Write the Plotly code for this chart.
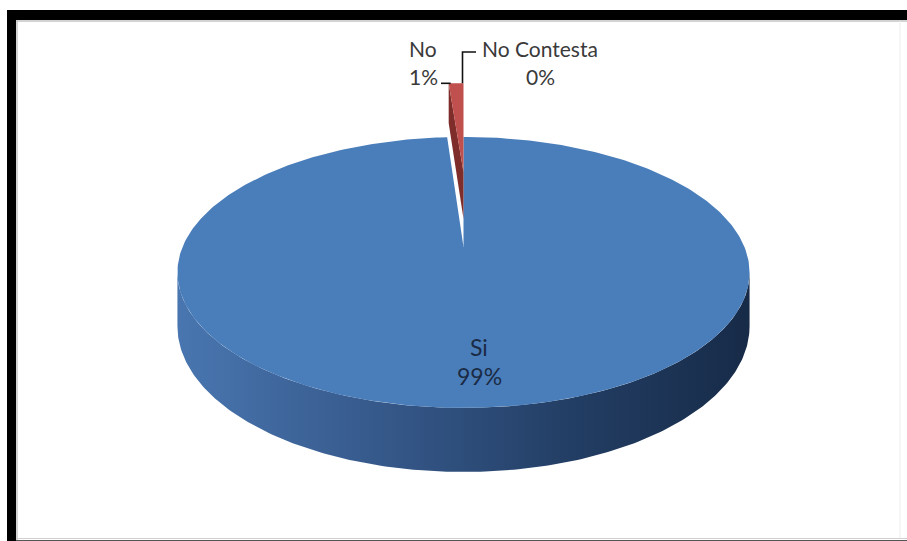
import numpy as np
import plotly.graph_objects as go

# Survey answers (percent of respondents)
categories = ["Si", "No", "No Contesta"]
shares = [98.9, 1.1, 0.0]
exploded = [False, True, False]

top_colors = ["#4A7EBB", "#C0504D", "#9BBB59"]
side_colors = ["#2E5283", "#7E2D2B", "#6A8A3A"]

# Perspective camera for the 3-D disc (screen pixels)
CX, Y0 = 463.5, -447.6
F, D, H = 1493.0, 5.314, 2.472
THICK = 0.185
EXPLODE = 0.64          # exploded slices are pulled straight back


def project(X, Z, h=0.0):
    d = D + Z
    return CX + F * X / d, Y0 + F * (H - h) / d


def rim(theta_deg, shift=(0.0, 0.0), h=0.0):
    t = np.radians(theta_deg)
    return project(np.sin(t) + shift[0], np.cos(t) + shift[1], h)


# slice angles, clockwise from 12 o'clock
total = sum(shares)
ends = np.cumsum([0] + [360.0 * v / total for v in shares])
slices = [(ends[i], ends[i + 1]) for i in range(len(shares))]

fig = go.Figure()


def add_poly(xs, ys, **kw):
    fig.add_trace(go.Scatter(x=xs, y=ys, mode="lines", fill="toself",
                             line=dict(width=0), hoverinfo="skip",
                             showlegend=False, **kw))


# outer wall of the disc (front half, between silhouette angles)
sil = np.degrees(np.arccos(-1.0 / D))
wall = np.linspace(sil, 360 - sil, 200)
wx_t, wy_t = rim(wall, h=0)
wx_b, wy_b = rim(wall[::-1], h=-THICK)
add_poly(np.concatenate([wx_t, wx_b, wx_t[:1]]),
         np.concatenate([wy_t, wy_b, wy_t[:1]]),
         fillgradient=dict(type="horizontal",
                           colorscale=[[0, "#4976B0"], [0.35, "#36598B"],
                                       [0.7, "#223D63"], [1, "#172B48"]]))

# top faces of the slices that stay in place
for i, (a0, a1) in enumerate(slices):
    if exploded[i] or a1 - a0 <= 0:
        continue
    arc = np.linspace(a0, a1, 400)
    xs, ys = rim(arc, h=0)
    c = project(0, 0, 0)
    add_poly(np.concatenate([[c[0]], xs, [c[0]]]),
             np.concatenate([[c[1]], ys, [c[1]]]),
             fillcolor=top_colors[i])

# exploded slices
for i, (a0, a1) in enumerate(slices):
    if not exploded[i] or a1 - a0 <= 0:
        continue
    sh = (0.0, EXPLODE)
    tip_t = project(sh[0], sh[1], 0)
    tip_b = project(sh[0], sh[1], -THICK)
    for ang in (a1, a0):
        rt = rim(ang, sh, 0)
        rb = rim(ang, sh, -THICK)
        add_poly([tip_t[0], rt[0], rb[0], tip_b[0], tip_t[0]],
                 [tip_t[1], rt[1], rb[1], tip_b[1], tip_t[1]],
                 fillcolor=side_colors[i])
    arc = np.linspace(a0, a1, 40)
    xs, ys = rim(arc, sh, 0)
    add_poly(np.concatenate([[tip_t[0]], xs, [tip_t[0]]]),
             np.concatenate([[tip_t[1]], ys, [tip_t[1]]]),
             fillcolor=top_colors[i])

# data labels
pct = [f"{round(v):.0f}%" for v in shares]
label_font = dict(family="Lato, Noto Sans, sans-serif", size=21, color="#3a3a3a")
label_pos = {0: (479, 347, 376), 1: (423, 48, 76), 2: (540, 48, 76)}
for i, (lx, ly1, ly2) in label_pos.items():
    font = dict(label_font)
    if i == 0:
        font.update(size=23, color="#1B2B45")
    fig.add_annotation(x=lx, y=ly1, text=categories[i], showarrow=False,
                       font=font, xanchor="center", yanchor="middle")
    fig.add_annotation(x=lx, y=ly2, text=pct[i], showarrow=False,
                       font=font, xanchor="center", yanchor="middle")

# leader lines to the exploded slice rim
a0, a1 = slices[1]
sh = (0.0, EXPLODE)
pl = rim(a0, sh, 0)
pr = rim(a1, sh, 0)
fig.add_trace(go.Scatter(x=[441, pl[0] + 2], y=[pl[1], pl[1]], mode="lines",
                         line=dict(color="#111", width=1.6),
                         hoverinfo="skip", showlegend=False))
fig.add_trace(go.Scatter(x=[pr[0] - 1, pr[0] - 1, 476], y=[pr[1], 52, 52], mode="lines",
                         line=dict(color="#111", width=1.6),
                         hoverinfo="skip", showlegend=False))

# frame
shapes = [
    dict(type="rect", x0=7, x1=907, y0=10, y1=20, fillcolor="black", line_width=0),
    dict(type="rect", x0=7, x1=16, y0=10, y1=541, fillcolor="black", line_width=0),
    dict(type="line", x0=17, x1=17, y0=20, y1=541, line=dict(color="#c4c4c4", width=1.5)),
    dict(type="line", x0=16, x1=907, y0=21, y1=21, line=dict(color="#c4c4c4", width=1.5)),
    dict(type="line", x0=900, x1=900, y0=21, y1=538, line=dict(color="#ededed", width=1)),
    dict(type="line", x0=16, x1=907, y0=538.5, y1=538.5, line=dict(color="#cfcfcf", width=1)),
    dict(type="line", x0=16, x1=907, y0=540.5, y1=540.5, line=dict(color="#555", width=1)),
]

fig.update_layout(
    width=907, height=541, autosize=False,
    margin=dict(l=0, r=0, t=0, b=0),
    paper_bgcolor="white", plot_bgcolor="white",
    xaxis=dict(range=[0, 907], visible=False, fixedrange=True),
    yaxis=dict(range=[541, 0], visible=False, fixedrange=True),
    shapes=shapes,
    showlegend=False,
)

fig.write_html("out.html")
